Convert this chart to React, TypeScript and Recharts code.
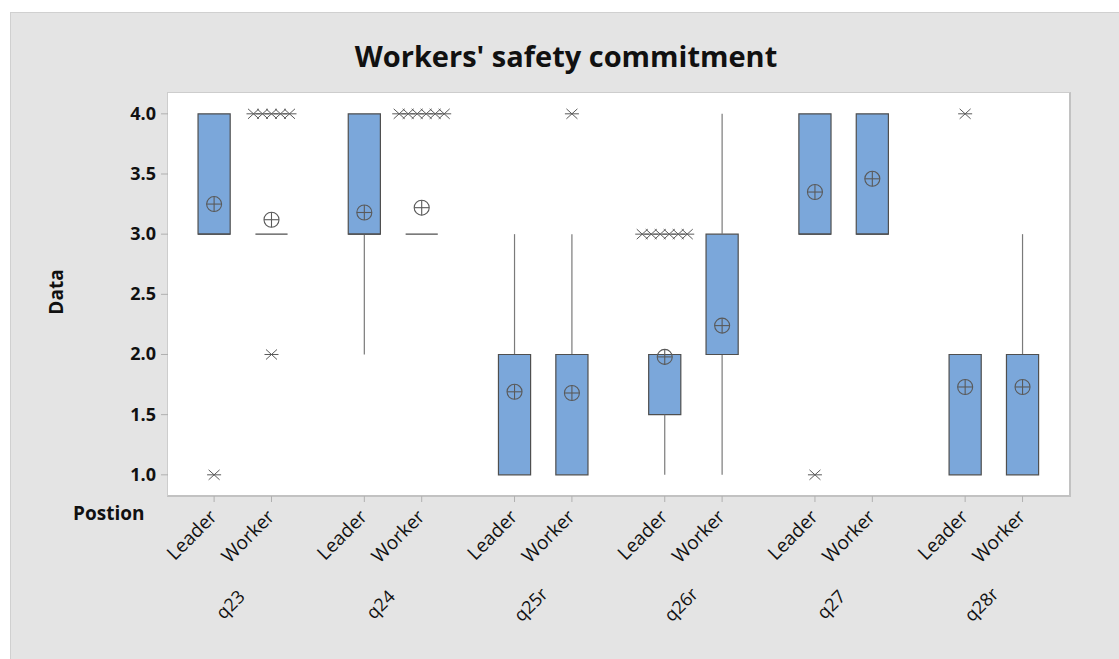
import React from "react";
import {
  ComposedChart,
  ReferenceArea,
  ReferenceLine,
  Scatter,
  XAxis,
  YAxis,
} from "recharts";

// Box-plot summary per question and position (Leader, Worker, Leader, Worker, ...)
const questions = ["q23", "q24", "q25r", "q26r", "q27", "q28r"];
const positions = ["Leader", "Worker"];

const q1Values = [3, 3, 3, 3, 1, 1, 1.5, 2, 3, 3, 1, 1];
const medianValues = [3, 3, 3, 3, 2, 2, 2, 2, 3, 3, 2, 2];
const q3Values = [4, 3, 4, 3, 2, 2, 2, 3, 4, 4, 2, 2];
const whiskerLow = [3, 3, 2, 3, 1, 1, 1, 1, 3, 3, 1, 1];
const whiskerHigh = [4, 3, 4, 3, 3, 3, 2, 4, 4, 4, 2, 3];
const meanValues = [3.25, 3.12, 3.18, 3.22, 1.69, 1.68, 1.98, 2.24, 3.35, 3.46, 1.73, 1.73];

// outliers: which box, the value, and how many tied observations
const outlierBox = [0, 1, 1, 3, 5, 6, 8, 10];
const outlierValue = [1, 4, 2, 4, 4, 3, 1, 4];
const outlierCount = [1, 5, 1, 6, 1, 6, 1, 1];

const yTicks = [1, 1.5, 2, 2.5, 3, 3.5, 4];

const WORKER_OFFSET = 0.382;
const BOX_HALF = 0.107;
const X_DOMAIN: [number, number] = [-0.307, 5.698];
const Y_DOMAIN: [number, number] = [0.824, 4.173];

const FONT = "'Open Sans', 'Noto Sans', sans-serif";
const BOX_FILL = "#7ba7da";
const BOX_STROKE = "#4f4f4f";
const WHISKER = "#7a7a7a";
const MARK = "#5a5a5a";

const xPos = (i: number) => Math.floor(i / 2) + (i % 2 ? WORKER_OFFSET : 0);
const boxIdx = q1Values.map((_, i) => i);
const tickXs = boxIdx.map(xPos);
const groupMids = questions.map((_, g) => g + WORKER_OFFSET / 2);

const meanPoints = meanValues.map((m, i) => ({ x: xPos(i), y: m }));
const outlierPoints = outlierBox.map((b, k) => ({
  x: xPos(b),
  y: outlierValue[k],
  count: outlierCount[k],
}));
// anchors the group axis so it gets laid out; draws nothing
const groupPoints = groupMids.map((g) => ({ x: g, y: 2.5 }));

function PositionTick(props: any) {
  const { x, y, index } = props;
  const ax = x + 4;
  const ay = y + 14;
  return (
    <text
      x={ax}
      y={ay}
      transform={`rotate(-45 ${ax} ${ay})`}
      textAnchor="end"
      fontFamily={FONT}
      fontSize={19}
      fill="#111"
    >
      {positions[index % 2]}
    </text>
  );
}

function GroupTick(props: any) {
  const { x, y, index } = props;
  const ax = x - 8;
  const ay = y + 45;
  return (
    <text
      x={ax}
      y={ay}
      transform={`rotate(-45 ${ax} ${ay})`}
      textAnchor="middle"
      fontFamily={FONT}
      fontSize={18}
      fill="#111"
    >
      {questions[index]}
    </text>
  );
}

function ValueTick(props: any) {
  const { x, y, payload } = props;
  return (
    <text
      x={x}
      y={y}
      dy={6}
      textAnchor="end"
      fontFamily={FONT}
      fontWeight={700}
      fontSize={18}
      fill="#111"
    >
      {Number(payload.value).toFixed(1)}
    </text>
  );
}

function MeanMark(props: any) {
  const { cx, cy } = props;
  const r = 7.5;
  return (
    <g stroke={MARK} strokeWidth={1.1} fill="none">
      <circle cx={cx} cy={cy} r={r} />
      <line x1={cx - r} y1={cy} x2={cx + r} y2={cy} />
      <line x1={cx} y1={cy - r} x2={cx} y2={cy + r} />
    </g>
  );
}

// tied outliers are spread sideways so each asterisk stays visible
function OutlierMark(props: any) {
  const { cx, cy, payload } = props;
  const n = payload.count;
  const step = 9;
  return (
    <g stroke={MARK} strokeWidth={1}>
      {Array.from({ length: n }, (_, k) => {
        const x = cx + (k - (n - 1) / 2) * step;
        return (
          <g key={k}>
            <line x1={x - 7} y1={cy} x2={x + 7} y2={cy} />
            <line x1={x - 5.5} y1={cy - 5} x2={x + 5.5} y2={cy + 5} />
            <line x1={x - 5.5} y1={cy + 5} x2={x + 5.5} y2={cy - 5} />
          </g>
        );
      })}
    </g>
  );
}

export default function App() {
  return (
    <div
      style={{
        position: "absolute",
        left: 0,
        top: 0,
        width: 1119,
        height: 659,
        overflow: "hidden",
        background: "#fff",
      }}
    >
      <div
        style={{
          position: "absolute",
          left: 10,
          top: 12,
          width: 1130,
          height: 670,
          background: "#e4e4e4",
          borderLeft: "1px solid #d0d0d0",
          borderTop: "1px solid #d0d0d0",
        }}
      />
      <div
        style={{
          position: "absolute",
          left: 167,
          top: 92,
          width: 904,
          height: 405,
          boxSizing: "border-box",
          background: "#fff",
          borderLeft: "1px solid #cdcdcd",
          borderTop: "1px solid #cdcdcd",
          borderRight: "2px solid #c2c2c2",
          borderBottom: "2px solid #c2c2c2",
        }}
      />
      <div style={{ position: "absolute", left: 0, top: 0 }}>
        <ComposedChart
          width={1119}
          height={659}
          margin={{ top: 93, right: 49, bottom: 0, left: 0 }}
        >
          <XAxis
            type="number"
            dataKey="x"
            domain={X_DOMAIN}
            allowDataOverflow
            ticks={tickXs}
            interval={0}
            height={60}
            axisLine={false}
            tickSize={6}
            tickLine={{ stroke: "#b0b0b0" }}
            tick={<PositionTick />}
          />
          <XAxis
            xAxisId="group"
            type="number"
            dataKey="x"
            domain={X_DOMAIN}
            allowDataOverflow
            ticks={groupMids}
            interval={0}
            height={103}
            axisLine={false}
            tickLine={false}
            tick={<GroupTick />}
          />
          <YAxis
            type="number"
            dataKey="y"
            domain={Y_DOMAIN}
            allowDataOverflow
            ticks={yTicks}
            interval={0}
            width={168}
            axisLine={false}
            tickSize={7}
            tickMargin={5}
            tickLine={{ stroke: "#b0b0b0" }}
            tick={<ValueTick />}
          />

          {boxIdx.map((i) =>
            whiskerLow[i] < q1Values[i] ? (
              <ReferenceLine
                key={`wl${i}`}
                segment={[
                  { x: xPos(i), y: whiskerLow[i] },
                  { x: xPos(i), y: q1Values[i] },
                ]}
                stroke={WHISKER}
                strokeWidth={1.2}
                ifOverflow="visible"
              />
            ) : null
          )}
          {boxIdx.map((i) =>
            whiskerHigh[i] > q3Values[i] ? (
              <ReferenceLine
                key={`wh${i}`}
                segment={[
                  { x: xPos(i), y: q3Values[i] },
                  { x: xPos(i), y: whiskerHigh[i] },
                ]}
                stroke={WHISKER}
                strokeWidth={1.2}
                ifOverflow="visible"
              />
            ) : null
          )}
          {boxIdx.map((i) =>
            q3Values[i] > q1Values[i] ? (
              <ReferenceArea
                key={`b${i}`}
                x1={xPos(i) - BOX_HALF}
                x2={xPos(i) + BOX_HALF}
                y1={q1Values[i]}
                y2={q3Values[i]}
                fill={BOX_FILL}
                fillOpacity={1}
                stroke={BOX_STROKE}
                strokeWidth={1.2}
                ifOverflow="visible"
              />
            ) : null
          )}
          {boxIdx.map((i) => (
            <ReferenceLine
              key={`m${i}`}
              segment={[
                { x: xPos(i) - BOX_HALF, y: medianValues[i] },
                { x: xPos(i) + BOX_HALF, y: medianValues[i] },
              ]}
              stroke={BOX_STROKE}
              strokeWidth={1.2}
              ifOverflow="visible"
            />
          ))}

          <Scatter
            xAxisId="group"
            data={groupPoints}
            dataKey="y"
            isAnimationActive={false}
            shape={() => <g />}
          />
          <Scatter
            data={outlierPoints}
            dataKey="y"
            isAnimationActive={false}
            shape={(p: any) => <OutlierMark {...p} />}
          />
          <Scatter
            data={meanPoints}
            dataKey="y"
            isAnimationActive={false}
            shape={(p: any) => <MeanMark {...p} />}
          />
        </ComposedChart>
      </div>
      <svg
        width={1119}
        height={659}
        style={{ position: "absolute", left: 0, top: 0, pointerEvents: "none" }}
      >
        <text
          x={566}
          y={67}
          textAnchor="middle"
          fontFamily={FONT}
          fontWeight={700}
          fontSize={29}
          fill="#111"
        >
          Workers' safety commitment
        </text>
        <text
          x={63}
          y={292}
          transform="rotate(-90 63 292)"
          textAnchor="middle"
          fontFamily={FONT}
          fontWeight={700}
          fontSize={19}
          fill="#111"
        >
          Data
        </text>
        <text
          x={73}
          y={520}
          fontFamily={FONT}
          fontWeight={700}
          fontSize={19}
          fill="#111"
        >
          Postion
        </text>
      </svg>
    </div>
  );
}
